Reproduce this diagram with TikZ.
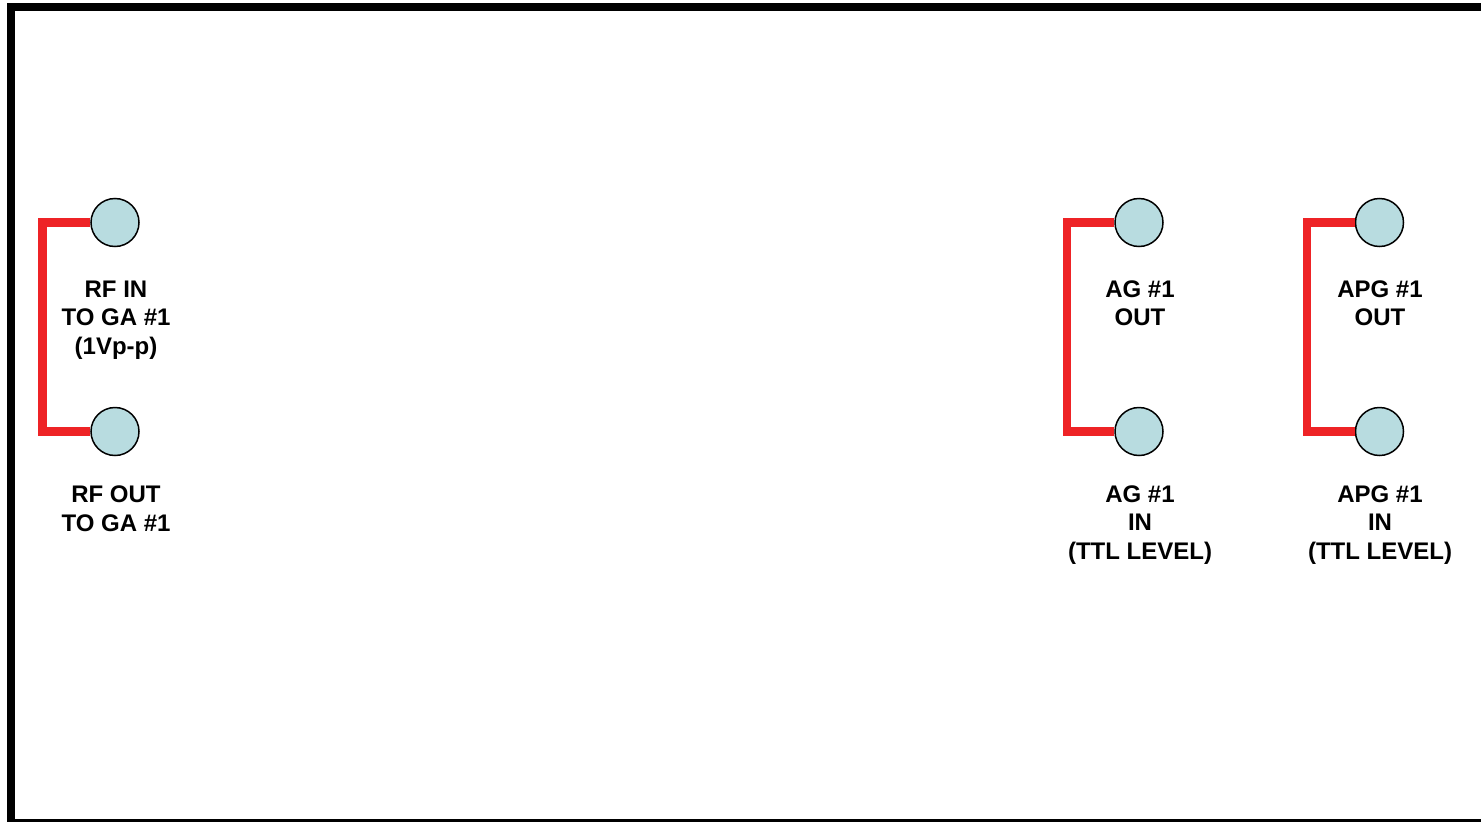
\documentclass[tikz,border=0pt]{standalone}
\usepackage{fontspec}
\setmainfont{Liberation Sans}
\definecolor{jackfill}{RGB}{184,220,224}
\definecolor{wirered}{RGB}{238,35,38}
\tikzset{
  jack/.style={circle, draw=black, line width=1.5pt, fill=jackfill, minimum size=48pt, inner sep=0pt},
  wire/.style={draw=wirered, line width=8.5pt, line join=miter, line cap=butt},
  panel/.style={draw=black, line width=8pt, line join=miter},
  % base anchor sits on the baseline of the last line
  lbl/.style={align=center, anchor=base, inner sep=0pt, font=\bfseries\fontsize{24}{28.5}\selectfont}
}
\begin{document}
\begin{tikzpicture}[x=1pt, y=-1pt]
  \useasboundingbox (0,0) rectangle (1481,822);
  \fill[white] (0,0) rectangle (1481,822);
  \clip (0,0) rectangle (1481,822);
  % front panel outline
  \draw[panel] (1500,7.3) -- (10.7,7.3) -- (10.7,823) -- (1500,823);

  % connectors on the panel
  \node[jack] (rfin)   at (115,222.5) {};
  \node[jack] (rfout)  at (115,431.5) {};
  \node[jack] (agout)  at (1139,222.5) {};
  \node[jack] (agin)   at (1139,431.5) {};
  \node[jack] (apgout) at (1379.5,222.5) {};
  \node[jack] (apgin)  at (1379.5,431.5) {};

  % loop-back cables
  \coordinate (rfbus)  at (42.5,0);
  \coordinate (agbus)  at (1067,0);
  \coordinate (apgbus) at (1307,0);
  \draw[wire] (rfin.west) -- (rfin.west -| rfbus) -- (rfout.west -| rfbus) -- (rfout.west);
  \draw[wire] (agout.west) -- (agout.west -| agbus) -- (agin.west -| agbus) -- (agin.west);
  \draw[wire] (apgout.west) -- (apgout.west -| apgbus) -- (apgin.west -| apgbus) -- (apgin.west);

  % labels
  \node[lbl] (rfinlbl)   at (116,354)  {RF IN\\TO GA \#1\\(1Vp-p)};
  \node[lbl] (rfoutlbl)  at (116,531)  {RF OUT\\TO GA \#1};
  \node[lbl] (agoutlbl)  at (1140,325.5) {AG \#1\\OUT};
  \node[lbl] (aginlbl)   at (1140,559) {AG \#1\\IN\\(TTL LEVEL)};
  \node[lbl] (apgoutlbl) at (1380,325.5) {APG \#1\\OUT};
  \node[lbl] (apginlbl)  at (1380,559) {APG \#1\\IN\\(TTL LEVEL)};
\end{tikzpicture}
\end{document}
